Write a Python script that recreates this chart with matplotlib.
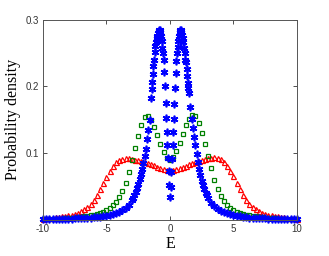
import numpy as np
import matplotlib
matplotlib.use('Agg')
import matplotlib.pyplot as plt

# energy grids
e_rg = np.linspace(-10, 10, 81)  # step 0.25, red and green
e_blue = np.concatenate([np.linspace(-10, -3.25, 28), np.linspace(-3.0, -1.6, 15),
                         np.linspace(-1.5, 1.5, 61), np.linspace(1.6, 3.0, 15),
                         np.linspace(3.25, 10, 28)])

red = [0.0022, 0.0026, 0.0030, 0.0035, 0.0040, 0.0046, 0.0053, 0.0061, 0.0071, 0.0082,
       0.0095, 0.0112, 0.0133, 0.0160, 0.0195, 0.0240, 0.0300, 0.0375, 0.0460, 0.0555,
       0.0650, 0.0735, 0.0810, 0.0865, 0.0900, 0.0920, 0.0930, 0.0928, 0.0920, 0.0906,
       0.0892, 0.0878, 0.0865, 0.0850, 0.0835, 0.0818, 0.0800, 0.0783, 0.0765, 0.0750,
       0.0740,
       0.0748, 0.0762, 0.0780, 0.0797, 0.0815, 0.0832, 0.0850, 0.0867, 0.0884, 0.0900,
       0.0914, 0.0926, 0.0935, 0.0940, 0.0935, 0.0912, 0.0870, 0.0815, 0.0740, 0.0655,
       0.0560, 0.0465, 0.0380, 0.0305, 0.0245, 0.0198, 0.0162, 0.0134, 0.0112, 0.0095,
       0.0082, 0.0071, 0.0061, 0.0053, 0.0046, 0.0040, 0.0035, 0.0030, 0.0026, 0.0022]

green = [0.0010, 0.0011, 0.0012, 0.0014, 0.0016, 0.0018, 0.0021, 0.0024, 0.0028, 0.0032,
         0.0037, 0.0042, 0.0048, 0.0055, 0.0063, 0.0072, 0.0082, 0.0094, 0.0108, 0.0124,
         0.0150, 0.0180, 0.0220, 0.0275, 0.0350, 0.0440, 0.0560, 0.0720, 0.0900, 0.1080,
         0.1260, 0.1420, 0.1550, 0.1560, 0.1500, 0.1400, 0.1270, 0.1140, 0.1020, 0.0935,
         0.0900,
         0.0940, 0.1030, 0.1150, 0.1290, 0.1420, 0.1520, 0.1570, 0.1560, 0.1460, 0.1310,
         0.1140, 0.0960, 0.0780, 0.0600, 0.0460, 0.0360, 0.0285, 0.0228, 0.0186, 0.0155,
         0.0127, 0.0108, 0.0093, 0.0081, 0.0071, 0.0062, 0.0054, 0.0047, 0.0041, 0.0036,
         0.0032, 0.0028, 0.0024, 0.0021, 0.0018, 0.0016, 0.0014, 0.0012, 0.0011, 0.0010]

blue = [0.0010, 0.0011, 0.0012, 0.0013, 0.0014, 0.0015, 0.0016, 0.0018, 0.0019, 0.0021,
        0.0023, 0.0025, 0.0027, 0.0030, 0.0033, 0.0037, 0.0041, 0.0046, 0.0052, 0.0059,
        0.0067, 0.0077, 0.0089, 0.0104, 0.0124, 0.0149, 0.0180, 0.0220,
        0.0300, 0.0335, 0.0375, 0.0420, 0.0480, 0.0540, 0.0610, 0.0690, 0.0770, 0.0860,
        0.0960, 0.1070, 0.1210, 0.1350, 0.1500,
        0.183, 0.196, 0.207, 0.218, 0.230, 0.240, 0.252, 0.261, 0.267, 0.272,
        0.276, 0.280, 0.283, 0.285, 0.284, 0.281, 0.276, 0.268, 0.258, 0.250,
        0.240, 0.222, 0.200, 0.176, 0.153, 0.132, 0.112, 0.093, 0.074, 0.052,
        0.034,
        0.050, 0.072, 0.092, 0.112, 0.132, 0.152, 0.174, 0.198, 0.220, 0.238,
        0.250, 0.259, 0.268, 0.276, 0.282, 0.285, 0.284, 0.281, 0.277, 0.272,
        0.266, 0.258, 0.250, 0.240, 0.236, 0.226, 0.215, 0.205, 0.198, 0.190,
        0.170, 0.152, 0.138, 0.125, 0.112, 0.099, 0.087, 0.077, 0.067, 0.059,
        0.052, 0.046, 0.041, 0.037, 0.033,
        0.026, 0.021, 0.0172, 0.0142, 0.0118, 0.0099, 0.0084, 0.0072, 0.0062, 0.0054,
        0.0047, 0.0042, 0.0037, 0.0033, 0.0030, 0.0027, 0.0025, 0.0023, 0.0021, 0.0019,
        0.0018, 0.0016, 0.0015, 0.0014, 0.0013, 0.0012, 0.0011, 0.0010]

xticks = [-10, -5, 0, 5, 10]
yticks = [0.1, 0.2, 0.3]

fig = plt.figure(figsize=(3.29, 2.56), dpi=100)
ax = fig.add_axes([0.1307, 0.1406, 0.772, 0.7824])

ax.plot(e_rg, red, ls='none', marker='^', ms=3.6, mfc='none', mec='#ff0000', mew=0.9, clip_on=False)
ax.plot(e_rg, green, ls='none', marker='s', ms=3.4, mfc='none', mec='#008000', mew=0.9, clip_on=False)
# MATLAB-style asterisk
ax.plot(e_blue, blue, ls='none', marker=(6, 2, 0), ms=5.5, color='#0000ff', mew=1.2, clip_on=False)

ax.set_xlim(-10, 10)
ax.set_ylim(0, 0.3)
ax.set_xticks(xticks)
ax.set_xticklabels([str(t) for t in xticks])
ax.set_yticks(yticks)
ax.set_yticklabels([str(t) for t in yticks])
ax.tick_params(direction='in', top=True, right=True, length=3, width=0.6,
               labelsize=7, colors='#333333', pad=3)
for s in ax.spines.values():
    s.set_color('#555555')
    s.set_linewidth(0.7)
for lab in ax.get_xticklabels() + ax.get_yticklabels():
    lab.set_family('Liberation Sans')

ax.set_xlabel('E', family='Liberation Serif', fontsize=11.5, labelpad=1)
ax.set_ylabel('Probability density', family='Liberation Serif', fontsize=11.5, labelpad=3)

fig.savefig('out.png', dpi=100)
